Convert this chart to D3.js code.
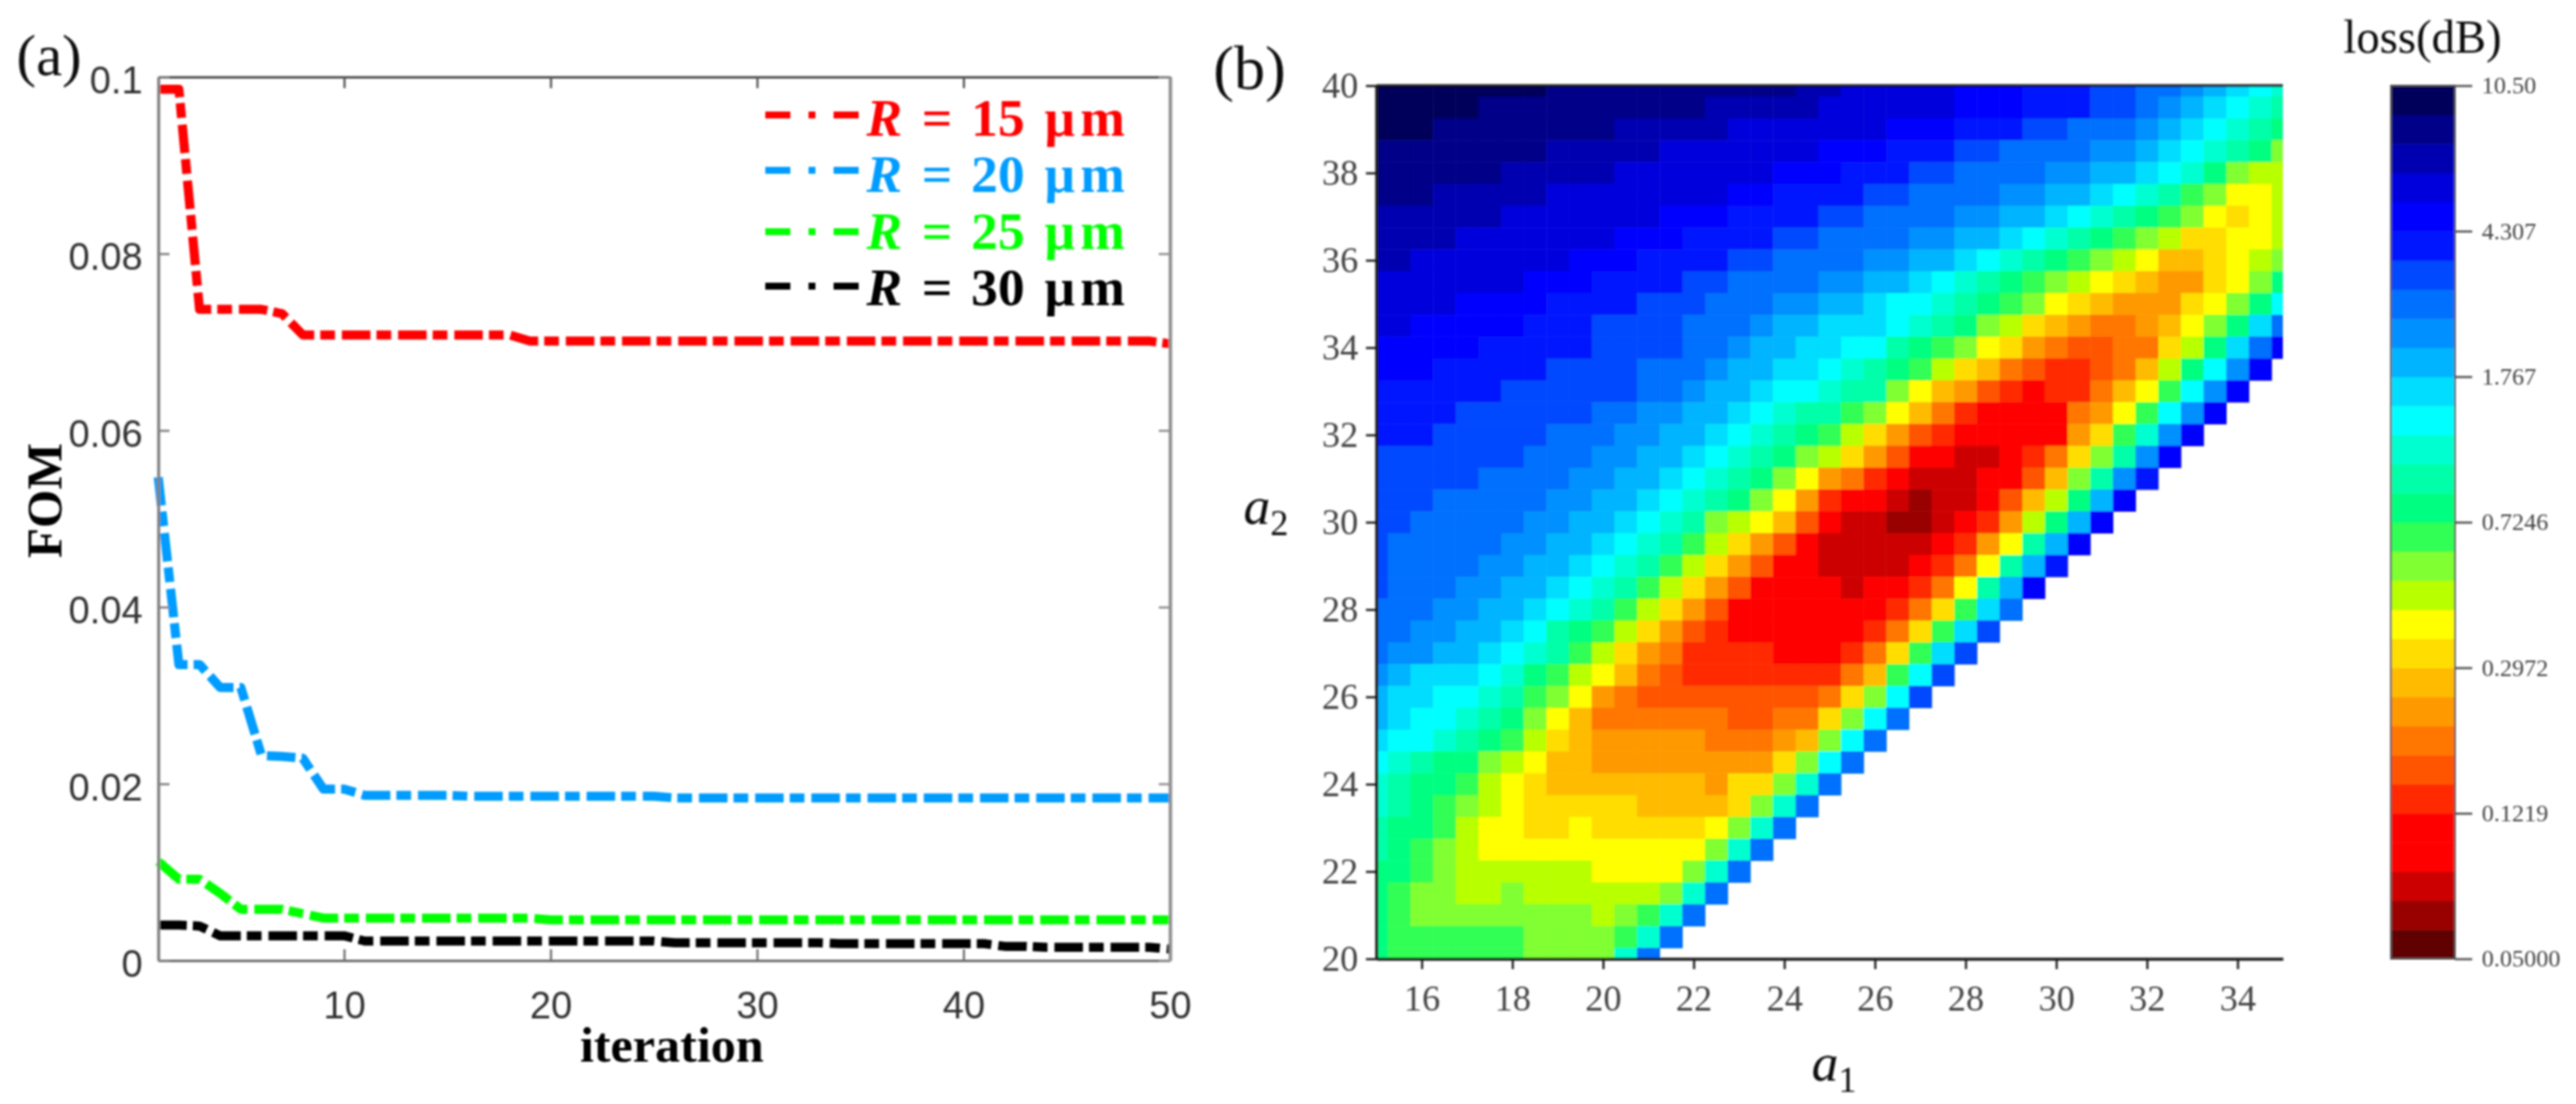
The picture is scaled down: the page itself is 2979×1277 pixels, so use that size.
<!DOCTYPE html>
<html>
<head>
<meta charset="utf-8">
<script src="https://cdn.jsdelivr.net/npm/d3@7"></script>
<style>
  html, body { margin: 0; padding: 0; background: #fff; }
  svg { display: block; }
  .serif { font-family: "Liberation Serif", serif; }
  .sans { font-family: "Liberation Sans", sans-serif; }
</style>
</head>
<body>
<svg id="chart" width="2979" height="1277"></svg>
<script>
// panel (a): FOM against iteration
const iterations = d3.range(1, 51);
const fomR15 = [0.0986,0.0986,0.0737,0.0737,0.0737,0.0737,0.0732,0.0708,0.0708,0.0708,
  0.0708,0.0708,0.0708,0.0708,0.0708,0.0708,0.0708,0.0708,0.0701,0.0701,
  0.0701,0.0701,0.0701,0.0701,0.0701,0.0701,0.0701,0.0701,0.0701,0.0701,
  0.0701,0.0701,0.0701,0.0701,0.0701,0.0701,0.0701,0.0701,0.0701,0.0701,
  0.0701,0.0701,0.0701,0.0701,0.0701,0.0701,0.0701,0.0701,0.0701,0.0698];
const fomR20 = [0.0547,0.0335,0.0335,0.0309,0.0309,0.0232,0.0231,0.0229,0.0194,0.0194,
  0.0187,0.0187,0.0187,0.0187,0.0187,0.0186,0.0186,0.0186,0.0186,0.0186,
  0.0186,0.0186,0.0186,0.0186,0.0186,0.0184,0.0184,0.0184,0.0184,0.0184,
  0.0184,0.0184,0.0184,0.0184,0.0184,0.0184,0.0184,0.0184,0.0184,0.0184,
  0.0184,0.0184,0.0184,0.0184,0.0184,0.0184,0.0184,0.0184,0.0184,0.0184];
const fomR25 = [0.0112,0.0092,0.0092,0.0076,0.0058,0.0058,0.0058,0.0053,0.0048,0.0048,
  0.0048,0.0048,0.0048,0.0048,0.0048,0.0048,0.0048,0.0048,0.0048,0.0046,
  0.0046,0.0046,0.0046,0.0046,0.0046,0.0046,0.0046,0.0046,0.0046,0.0046,
  0.0046,0.0046,0.0046,0.0046,0.0046,0.0046,0.0046,0.0046,0.0046,0.0046,
  0.0046,0.0046,0.0046,0.0046,0.0046,0.0046,0.0046,0.0046,0.0046,0.0046];
const fomR30 = [0.0040,0.0040,0.0039,0.0028,0.0028,0.0028,0.0028,0.0028,0.0028,0.0028,
  0.0022,0.0022,0.0022,0.0022,0.0022,0.0022,0.0022,0.0022,0.0022,0.0022,
  0.0022,0.0022,0.0022,0.0022,0.0022,0.0020,0.0020,0.0020,0.0020,0.0020,
  0.0020,0.0020,0.0020,0.0019,0.0019,0.0019,0.0019,0.0019,0.0019,0.0019,
  0.0019,0.0016,0.0016,0.0015,0.0015,0.0015,0.0015,0.0015,0.0015,0.0013];
const seriesValues = [fomR15, fomR20, fomR25, fomR30];
const seriesRadius = ["15", "20", "25", "30"];
const seriesColors = ["#ff0000", "#009cff", "#00ff00", "#000000"];
const fomXTicks = [10, 20, 30, 40, 50];
const fomYTicks = [0, 0.02, 0.04, 0.06, 0.08, 0.1];

// panel (b): colour level of each cell, top row is a2 = 40, left column is a1 = 15
// levels run 0 (darkest red) .. t (navy), cells past the end of a row have no data
const a1Values = d3.range(15, 35.5, 0.5);
const a2Values = d3.range(40, 19.5, -0.5);
const lossLevels = [
  "ttttttttsssssssssssrrqqqqqpppooonnmmlkjih",
  "tttttssssssssssrrrrrqqqqqqpppooonnmlkjihg",
  "tttssssssssrrrrrqqqqqqqpppooonnmmmlkjihgf",
  "ssssssssrrrrrqqqqqqqpppooonnmmmmllkjihgfd",
  "ssssssrrrrrqqqqqqqpppooonnmmmmllkkjihfdcc",
  "sssrrrrrqqqqqqqqppoooonnmmmmllkkjihgedbbc",
  "rrrrrrqqqqqqqpppoooonnmmmmllkkjihgfedbabc",
  "rrrrqqqqqqqpppoooonnmmmmllkkjihgfedcaabbc",
  "rrqqqqqqqpppoooonnmmmmllkkjihgfedcb99abcd",
  "qqqqqqqpppoooonnmmmmllkkjihgfedcba988abdf",
  "qqqqppppoooonnnmmmllkkjiihgfedba9888abdfi",
  "qqpppppooonnnnmmmlkkjjjihgfdca987789bdfjm",
  "pppppooooonnnnmmlkkjjiigfedba876677acfjmp",
  "pppooooonnnnmmmlkkjjihgfeca97655679cfilp",
  "oooooonnnnnnmmlkkjiihggdb986535579beilp",
  "oooonnnnnnmmllkkjihggedb975333378beilp",
  "ooonnnnnmmmllkkjihgfeca865333338aehlp",
  "nnnnnnnmmmllkkjihgfdca863322357adglp",
  "nnnnnmmmmllkkjihgfdb87532223369dglo",
  "nnnmmmmmllkkjihgfdb85332122369cfkp",
  "nnmmmmmllkkjihgdcb96322112358cfkp",
  "nmmmmmllkkjihgeca86322222358bgkp",
  "nmmmmllkkjihgeca86332222357bgko",
  "nmmmllkkjihgeca86333323357bgkp",
  "mmmllkkjihgeca86333333357aejm",
  "mmllkkjigfeca86533333357aejn",
  "mllkkjihgeca87555533357aejn",
  "lkjjjihfecb976555555579ein",
  "kjjiihgedb87666666667adin",
  "kjiihgfdb97777776677adim",
  "jiihgfeca98888877789dim",
  "ihgffdcb9988888888adim",
  "hgffecba99999998aadhm",
  "hgfedcbaaaaa9999adhm",
  "gffecbbaabaaaaabdhm",
  "gfedcbbbbbbbbbbdhm",
  "ffedccccccbbbbdhm",
  "feddccdccccccdhm",
  "feddddddddcdehm",
  "feeeeeeddddehm",
  "feeeeeeddddhm"
];
const levelKeys = "0123456789abcdefghijklmnopqrst".split("");
const levelColors = ["#600000","#990000","#cc0000","#ff0000","#ff0000","#ff2a00",
  "#ff5500","#ff7700","#ff9900","#ffbb00","#ffdd00","#ffff00",
  "#b8ff00","#80ff30","#30ff55","#00ff80","#00ffa8","#00ffd0",
  "#00ffff","#00ddff","#00b4ff","#0090ff","#0070ff","#0048ff",
  "#0018ff","#0000ff","#0000dc","#0000b0","#000088","#00005a"];
const a1Ticks = d3.range(16, 36, 2);
const a2Ticks = d3.range(20, 42, 2);
const lossTicks = [0.05, 0.1219, 0.2972, 0.7246, 1.767, 4.307, 10.5];
const lossTickLabels = ["0.05000", "0.1219", "0.2972", "0.7246", "1.767", "4.307", "10.50"];

const svg = d3.select("#chart");
const defs = svg.append("defs");
// the source picture is an upscaled bitmap, so everything is slightly soft
defs.append("filter").attr("id", "soft")
  .attr("filterUnits", "userSpaceOnUse")
  .attr("x", 0).attr("y", 0).attr("width", 2979).attr("height", 1277)
  .append("feGaussianBlur").attr("stdDeviation", 0.9);
const root = svg.append("g").attr("filter", "url(#soft)");

function styleAxis(g, color, width, fontSize, family, textColor) {
  g.selectAll("path.domain").attr("stroke", color).attr("stroke-width", width);
  g.selectAll(".tick line").attr("stroke", color).attr("stroke-width", 2.5);
  g.selectAll(".tick text")
    .attr("font-family", family)
    .attr("font-size", fontSize)
    .attr("fill", textColor);
}

// ---------- panel (a) ----------
const xFom = d3.scaleLinear().domain([1, 50]).range([183, 1353]);
const yFom = d3.scaleLinear().domain([0, 0.1]).range([1111, 89]);
const sansFont = '"Liberation Sans", sans-serif';
const serifFont = '"Liberation Serif", serif';

const fomLine = d3.line()
  .x((d, i) => xFom(iterations[i]))
  .y(d => yFom(d));

seriesValues.forEach((values, i) => {
  root.append("path")
    .attr("d", fomLine(values))
    .attr("fill", "none")
    .attr("stroke", seriesColors[i])
    .attr("stroke-width", 10.5)
    .attr("stroke-linejoin", "round")
    .attr("stroke-dasharray", "33 7 17 8");
});

const axisColor = "#707070";
root.append("g").attr("transform", `translate(0,${yFom(0)})`)
  .call(d3.axisBottom(xFom).tickValues(fomXTicks).tickSize(-13).tickSizeOuter(0).tickPadding(36).tickFormat(d3.format("d")))
  .call(styleAxis, axisColor, 3, 44, sansFont, "#333");
root.append("g").attr("transform", `translate(0,${yFom(0.1)})`)
  .call(d3.axisTop(xFom).tickValues(fomXTicks).tickSize(-13).tickSizeOuter(0).tickFormat(""))
  .call(styleAxis, "#555", 3, 44, sansFont, "#333");
const fomLeft = root.append("g").attr("transform", `translate(${xFom(1)},0)`)
  .call(d3.axisLeft(yFom).tickValues(fomYTicks).tickSize(-13).tickSizeOuter(0).tickPadding(18).tickFormat(d => d === 0 ? "0" : String(d)))
  .call(styleAxis, "#808080", 3.5, 44, sansFont, "#333");
fomLeft.selectAll(".tick text").attr("dy", "0.42em");
root.append("g").attr("transform", `translate(${xFom(50)},0)`)
  .call(d3.axisRight(yFom).tickValues(fomYTicks).tickSize(-13).tickSizeOuter(0).tickFormat(""))
  .call(styleAxis, "#909090", 4, 44, sansFont, "#333");

root.append("text").attr("class", "serif")
  .attr("x", 19).attr("y", 87).attr("font-size", 68).attr("fill", "#111").text("(a)");
root.append("text").attr("class", "serif")
  .attr("transform", "translate(71,579) rotate(-90)")
  .attr("text-anchor", "middle").attr("font-size", 57).attr("font-weight", "bold").text("FOM");
root.append("text").attr("class", "serif")
  .attr("x", 777).attr("y", 1228).attr("text-anchor", "middle")
  .attr("font-size", 58).attr("font-weight", "bold").text("iteration");

// legend
const legendLineY = [133, 197, 268, 331];
const legendTextY = [157, 222, 288, 353];
seriesRadius.forEach((radius, i) => {
  root.append("line")
    .attr("x1", 885).attr("x2", 993)
    .attr("y1", legendLineY[i]).attr("y2", legendLineY[i])
    .attr("stroke", seriesColors[i]).attr("stroke-width", 8)
    .attr("stroke-dasharray", "29 21 8 21 29");
  const label = root.append("text").attr("class", "serif")
    .attr("y", legendTextY[i]).attr("font-size", 62)
    .attr("font-weight", "bold").attr("fill", seriesColors[i]);
  label.append("tspan").attr("x", 1002).attr("font-style", "italic").text("R");
  label.append("tspan").attr("x", 1066).text("=");
  label.append("tspan").attr("x", 1123).text(radius);
  label.append("tspan").attr("x", 1208).attr("letter-spacing", 6).text("μm");
});

// ---------- panel (b) ----------
const xHeat = d3.scaleLinear().domain([15, 35]).range([1591.7, 2640]);
const yHeat = d3.scaleLinear().domain([20, 40]).range([1109, 99]);
const levelColor = d3.scaleOrdinal(levelKeys, levelColors);
const cellW = xHeat(15.5) - xHeat(15);
const cellH = yHeat(20) - yHeat(20.5);

defs.append("clipPath").attr("id", "heat-clip").append("rect")
  .attr("x", xHeat(15)).attr("y", yHeat(40))
  .attr("width", xHeat(35) - xHeat(15)).attr("height", yHeat(20) - yHeat(40));

const cells = [];
lossLevels.forEach((row, r) => {
  row.split("").forEach((level, c) => {
    cells.push({ a1: a1Values[c], a2: a2Values[r], level });
  });
});
root.append("g").attr("clip-path", "url(#heat-clip)")
  .selectAll("rect").data(cells).join("rect")
  .attr("x", d => xHeat(d.a1) - cellW / 2)
  .attr("y", d => yHeat(d.a2) - cellH / 2)
  .attr("width", cellW + 0.5)
  .attr("height", cellH + 0.5)
  .attr("fill", d => levelColor(d.level));

const heatAxisColor = "#1a1a1a";
root.append("g").attr("transform", `translate(0,${yHeat(20)})`)
  .call(d3.axisBottom(xHeat).tickValues(a1Ticks).tickSize(12).tickSizeOuter(0).tickPadding(18).tickFormat(d3.format("d")))
  .call(styleAxis, heatAxisColor, 3.5, 42, serifFont, "#444");
root.append("g").attr("transform", `translate(${xHeat(15)},0)`)
  .call(d3.axisLeft(yHeat).tickValues(a2Ticks).tickSize(12).tickSizeOuter(0).tickPadding(9).tickFormat(d3.format("d")))
  .call(styleAxis, heatAxisColor, 3.5, 42, serifFont, "#444");
root.append("line")
  .attr("x1", xHeat(15)).attr("x2", xHeat(35))
  .attr("y1", yHeat(40)).attr("y2", yHeat(40))
  .attr("stroke", heatAxisColor).attr("stroke-width", 3);

root.append("text").attr("class", "serif")
  .attr("x", 1403).attr("y", 103).attr("font-size", 72).attr("fill", "#111").text("(b)");

const a2Label = root.append("text").attr("class", "serif").attr("x", 1438).attr("y", 606).attr("fill", "#111");
a2Label.append("tspan").attr("font-size", 62).attr("font-style", "italic").text("a");
a2Label.append("tspan").attr("font-size", 42).attr("dy", 13).text("2");
const a1Label = root.append("text").attr("class", "serif").attr("x", 2095).attr("y", 1250).attr("fill", "#111");
a1Label.append("tspan").attr("font-size", 62).attr("font-style", "italic").text("a");
a1Label.append("tspan").attr("font-size", 42).attr("dy", 13).text("1");

// colour bar
const yLevel = d3.scaleLinear().domain([0, levelColors.length]).range([1109, 99]);
const yLoss = d3.scaleLog().domain([0.05, 10.5]).range([1109, 99]);
root.append("g").selectAll("rect").data(levelColors).join("rect")
  .attr("x", 2765).attr("width", 74)
  .attr("y", (d, i) => yLevel(i + 1))
  .attr("height", (d, i) => yLevel(i) - yLevel(i + 1) + 0.5)
  .attr("fill", d => d);
root.append("rect")
  .attr("x", 2765).attr("y", 99).attr("width", 74).attr("height", 1010)
  .attr("fill", "none").attr("stroke", "#555").attr("stroke-width", 2);
root.append("g").attr("transform", "translate(2839,0)")
  .call(d3.axisRight(yLoss).tickValues(lossTicks).tickSize(20).tickPadding(11)
    .tickFormat(d => lossTickLabels[lossTicks.indexOf(d)]))
  .call(g => g.select("path.domain").remove())
  .call(styleAxis, "#555", 2, 28, serifFont, "#444");
root.append("text").attr("class", "serif")
  .attr("x", 2710).attr("y", 61).attr("font-size", 54).attr("fill", "#111").text("loss(dB)");
</script>
</body>
</html>
